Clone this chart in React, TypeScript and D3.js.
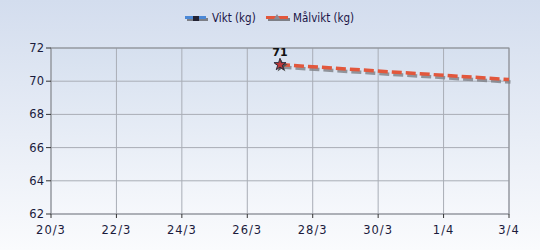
import React from "react";
import * as d3 from "d3";

const tickDates = ["2013-03-20","2013-03-22","2013-03-24","2013-03-26","2013-03-28","2013-03-30","2013-04-01","2013-04-03"];
const yTicks = [62, 64, 66, 68, 70, 72];
const viktDates = ["2013-03-27"];
const viktValues = [71];
const malDates = ["2013-03-27", "2013-04-03"];
const malValues = [71, 70.1];
const seriesNames = ["Vikt (kg)", "Målvikt (kg)"];

const W = 540, H = 250;
const m = { left: 51, right: 31, top: 48, bottom: 36 };
const parse = d3.timeParse("%Y-%m-%d");

export default function App() {
  const x = d3.scaleTime()
    .domain([parse(tickDates[0])!, parse(tickDates[tickDates.length - 1])!])
    .range([m.left, W - m.right]);
  const y = d3.scaleLinear().domain([62, 72]).range([H - m.bottom, m.top]);
  const fmt = d3.timeFormat("%-d/%-m");
  const mal = malDates.map((d, i) => ({ d: parse(d)!, v: malValues[i] }));
  const vikt = viktDates.map((d, i) => ({ d: parse(d)!, v: viktValues[i] }));
  const line = d3.line<{ d: Date; v: number }>().x(p => x(p.d)).y(p => y(p.v));
  const font = "'DejaVu Sans', sans-serif";
  const legFont = "'DejaVu Sans Condensed', 'DejaVu Sans', sans-serif";
  const textColor = "#1b1b3c";
  return (
    <svg width={W} height={H} style={{ position: "absolute", left: 0, top: 0 }}>
      <defs>
        <linearGradient id="bg" x1="0" y1="0" x2="0" y2="1">
          <stop offset="0" stopColor="#d3ddee" />
          <stop offset="1" stopColor="#fafbfd" />
        </linearGradient>
        <linearGradient id="plot" x1="0" y1="0" x2="0" y2="1">
          <stop offset="0" stopColor="#d6e0ef" />
          <stop offset="1" stopColor="#f6f8fc" />
        </linearGradient>
      </defs>
      <rect x={0} y={0} width={W} height={H} fill="url(#bg)" />
      <rect x={m.left} y={m.top} width={W - m.left - m.right} height={H - m.top - m.bottom} fill="url(#plot)" />
      {tickDates.map(t => (
        <line key={"gx" + t} x1={x(parse(t)!)} x2={x(parse(t)!)} y1={m.top} y2={H - m.bottom} stroke="#a9adb6" strokeWidth={1} />
      ))}
      {yTicks.map(t => (
        <line key={"gy" + t} x1={m.left} x2={W - m.right} y1={y(t)} y2={y(t)} stroke="#a9adb6" strokeWidth={1} />
      ))}
      <rect x={m.left} y={m.top} width={W - m.left - m.right} height={H - m.top - m.bottom} fill="none" stroke="#8a8d94" strokeWidth={1} />
      {yTicks.map(t => (
        <g key={"yt" + t}>
          <line x1={m.left - 5} x2={m.left} y1={y(t)} y2={y(t)} stroke="#333" />
          <text x={m.left - 7} y={y(t)} dy="0.35em" textAnchor="end" fontFamily={font} fontSize={11.5} fill={textColor}>{t}</text>
        </g>
      ))}
      {tickDates.map(t => (
        <g key={"xt" + t}>
          <line x1={x(parse(t)!)} x2={x(parse(t)!)} y1={H - m.bottom} y2={H - m.bottom + 4} stroke="#333" />
          <text x={x(parse(t)!)} y={H - m.bottom + 20} textAnchor="middle" fontFamily={font} fontSize={11.5} fill={textColor} letterSpacing={1}>{fmt(parse(t)!)}</text>
        </g>
      ))}
      <path d={line(mal) || ""} transform="translate(1.5,2.5)" fill="none" stroke="#7d7f86" strokeOpacity={0.8} strokeWidth={3.5} strokeDasharray="10,4" />
      <path d={line(mal) || ""} fill="none" stroke="#e2573c" strokeWidth={3.5} strokeDasharray="10,4" />
      {vikt.map((p, i) => (
        <g key={"v" + i}>
          <path d={d3.symbol(d3.symbolStar, 50)() || ""} transform={`translate(${x(p.d) + 1.5},${y(p.v) + 1.5})`} fill="#555" />
          <path d={d3.symbol(d3.symbolStar, 45)() || ""} transform={`translate(${x(p.d)},${y(p.v)})`} fill="#c0393a" stroke="#2b2b3a" strokeWidth={1} />
          <text x={x(p.d)} y={y(p.v) - 9} textAnchor="middle" fontFamily={font} fontSize={11} fontWeight="bold" fill="#111">{p.v}</text>
        </g>
      ))}
      <g>
        <line x1={187} x2={208} y1={19.5} y2={19.5} stroke="#7d7f86" strokeWidth={3} />
        <line x1={185} x2={206} y1={17.5} y2={17.5} stroke="#4b88d6" strokeWidth={3} />
        <rect x={193} y={16} width={6} height={5} fill="#223" />
        <text x={212} y={22} fontFamily={legFont} fontSize={11.5} fill="#1a1446">{seriesNames[0]}</text>
        <line x1={268} x2={290} y1={19.5} y2={19.5} stroke="#7d7f86" strokeWidth={3} />
        <line x1={266} x2={288} y1={17.5} y2={17.5} stroke="#e2573c" strokeWidth={3} />
        <path d="M277,14 L280,19 L274,19 Z" fill="#8a8a95" />
        <text x={293} y={22} fontFamily={legFont} fontSize={11.5} fill="#1a1446">{seriesNames[1]}</text>
      </g>
    </svg>
  );
}
